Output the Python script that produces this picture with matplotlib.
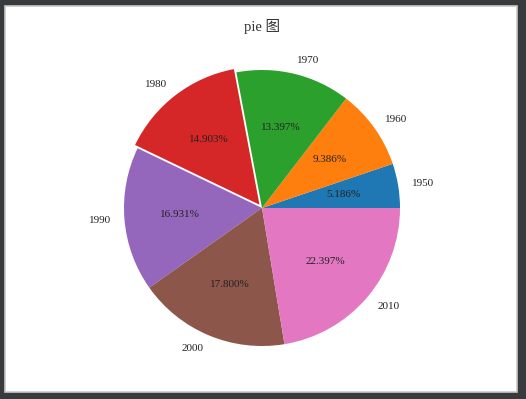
import matplotlib.pyplot as plt
from matplotlib.patches import Rectangle

labels = ['1950', '1960', '1970', '1980', '1990', '2000', '2010']
shares = [5.186, 9.386, 13.397, 14.903, 16.931, 17.800, 22.397]
explode = [0, 0, 0, 0.03, 0, 0, 0]
title = 'pie 图'

plt.rcParams['font.family'] = ['Liberation Serif', 'Noto Sans CJK SC']

fig = plt.figure(figsize=(5.26, 3.99), dpi=100, facecolor='#383b3e')

# white window area of the screenshot
fig.patches.append(Rectangle((5 / 526, 7 / 399), 512 / 526, 386 / 399,
                             transform=fig.transFigure, facecolor='white',
                             edgecolor='#c8c8c8', linewidth=1.2, zorder=-10))

ax = fig.add_axes([89.5 / 526, 18.5 / 399, 345 / 526, 345 / 399])
ax.set_facecolor('none')
ax.pie(shares, labels=labels, explode=explode, autopct='%.3f%%',
       textprops={'fontsize': 8, 'color': '#222222'})

fig.text(262 / 526, 1 - 26 / 399, title, ha='center', va='center',
         fontsize=10.5, color='#333333')

fig.savefig('out.png', dpi=100, facecolor=fig.get_facecolor())
